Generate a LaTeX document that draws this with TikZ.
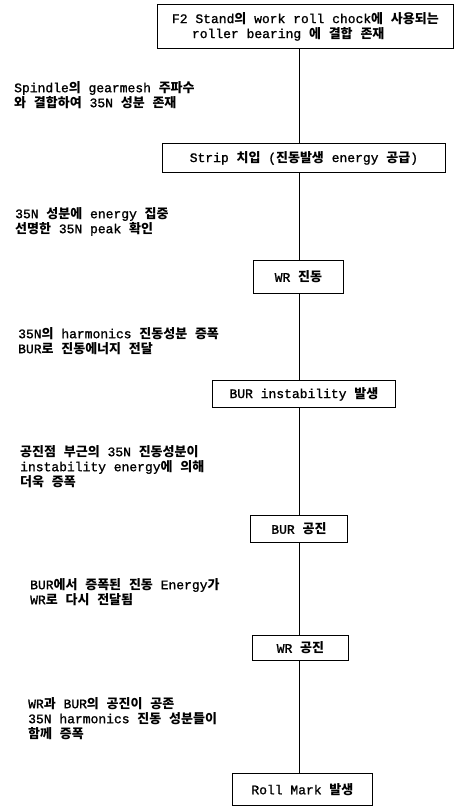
\documentclass[tikz,border=0pt]{standalone}
\usepackage{fontspec}
\setmainfont{Liberation Mono}[UprightFeatures={FakeBold=1.2}]
\newfontfamily\kr{Noto Sans CJK KR}
\newcommand\K[1]{{\kr\bfseries #1}}
\tikzset{
  box/.style={draw, line width=0.8pt, anchor=north west, inner sep=2pt,
    font=\fontsize{13}{15}\selectfont},
  note/.style={anchor=north west, inner sep=0pt, align=left,
    font=\fontsize{13}{15}\selectfont},
  link/.style={line width=0.8pt}
}
\begin{document}
\begin{tikzpicture}[x=1pt,y=-1pt]
\useasboundingbox (0,0) rectangle (455,806);
\coordinate (sp) at (299,0);
\node[box, minimum width=296pt, minimum height=44pt, align=left] (b1) at (157,4)
  {F2 Stand\K{의} work roll chock\K{에} \K{사용되는}\\\hspace*{20pt}roller bearing \K{에} \K{결합} \K{존재}};
\node[note] (t1) at (14,81)
  {Spindle\K{의} gearmesh \K{주파수}\\\K{와} \K{결합하여} 35N \K{성분} \K{존재}};
\node[box, minimum width=283pt, minimum height=29pt] (b2) at (162,143)
  {Strip \K{치입} (\K{진동발생} energy \K{공급})};
\node[note] (t2) at (15,207)
  {35N \K{성분에} energy \K{집중}\\\K{선명한} 35N peak \K{확인}};
\node[box, minimum width=90pt, minimum height=33pt] (b3) at (253,260)
  {WR \K{진동}};
\node[note] (t3) at (18,327)
  {35N\K{의} harmonics \K{진동성분} \K{증폭}\\BUR\K{로} \K{진동에너지} \K{전달}};
\node[box, minimum width=183pt, minimum height=27pt] (b4) at (212,380)
  {BUR instability \K{발생}};
\node[note] (t4) at (20,445)
  {\K{공진점} \K{부근의} 35N \K{진동성분이}\\instability energy\K{에} \K{의해}\\\K{더욱} \K{증폭}};
\node[box, minimum width=97pt, minimum height=27pt] (b5) at (250,515)
  {BUR \K{공진}};
\node[note] (t5) at (30,578)
  {BUR\K{에서} \K{증폭된} \K{진동} Energy\K{가}\\WR\K{로} \K{다시} \K{전달됨}};
\node[box, minimum width=96pt, minimum height=25pt] (b6) at (252,635)
  {WR \K{공진}};
\node[note] (t6) at (28,697)
  {WR\K{과} BUR\K{의} \K{공진이} \K{공존}\\35N harmonics \K{진동} \K{성분들이}\\\K{함께} \K{증폭}};
\node[box, minimum width=140pt, minimum height=32pt] (b7) at (232,773)
  {Roll Mark \K{발생}};
\draw[link] (b1.south -| sp) -- (b2.north -| sp);
\draw[link] (b2.south -| sp) -- (b3.north -| sp);
\draw[link] (b3.south -| sp) -- (b4.north -| sp);
\draw[link] (b4.south -| sp) -- (b5.north -| sp);
\draw[link] (b5.south -| sp) -- (b6.north -| sp);
\draw[link] (b6.south -| sp) -- (b7.north -| sp);
\end{tikzpicture}
\end{document}
